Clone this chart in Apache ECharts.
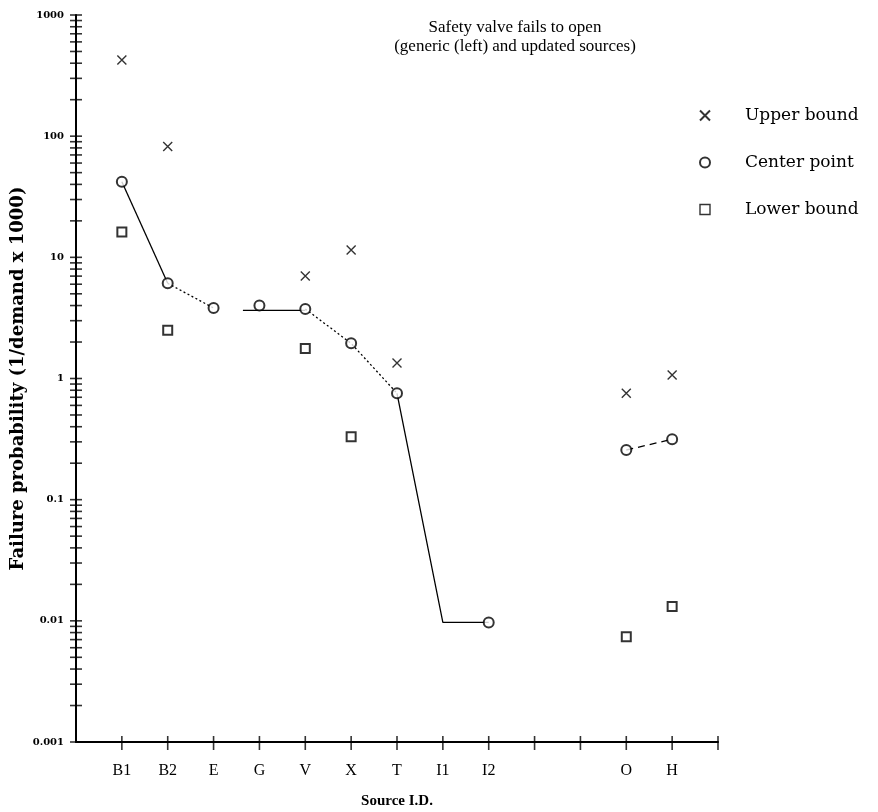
<!DOCTYPE html>
<html><head><meta charset="utf-8">
<script src="https://cdn.jsdelivr.net/npm/echarts@6/dist/echarts.min.js"></script>
<style>html,body{margin:0;padding:0;background:#fff}#c{width:878px;height:812px}</style>
</head><body><div id="c"></div>
<script>
// ---- data ----
const categories = ['B1','B2','E','G','V','X','T','I1','I2','','','O','H'];
const upperBound  = [425, 82, null, null, 7.0, 11.5, 1.34, null, null, null, null, 0.755, 1.07];
const centerPoint = [42, 6.1, 3.82, 4.0, 3.75, 1.95, 0.755, null, 0.0097, null, null, 0.257, 0.315];
const lowerBound  = [16.2, 2.5, null, null, 1.77, 0.33, null, null, null, null, null, 0.0074, 0.0131];
// connecting lines through the center values: [position, value]
const solidLine1  = [[1, 42], [2, 6.1]];
const dottedLine1 = [[2, 6.1], [3, 3.82]];
const solidLine2  = [[3.64, 3.65], [5, 3.65]];
const dottedLine2 = [[5, 3.75], [6, 1.95], [7, 0.755]];
const solidLine3  = [[7, 0.755], [8, 0.0097], [9, 0.0097]];
const dashedLine  = [[12, 0.257], [13, 0.315]];
const yTickLabels = ['0.001','0.01','0.1','1','10','100','1000'];
const yDecades = [0.001, 0.01, 0.1, 1, 10, 100];
const tickMultipliers = [1,2,3,4,5,6,7,8,9];

const FONT = "'Liberation Serif','DejaVu Serif',serif";
const WIDE = "'DejaVu Serif','Liberation Serif',serif";
const toPairs = arr => arr.map((v, i) => v == null ? null : [i + 1, v]).filter(p => p);

const yTicks = [];
yDecades.forEach(d => tickMultipliers.forEach(m => yTicks.push([0, m * d])));
yTicks.push([0, 1000]);
const xTicks = [];
for (let i = 1; i <= categories.length + 1; i++) xTicks.push([i, 0.001]);

const lineSeries = (data, type) => ({
  type: 'line', data, symbol: 'none', silent: true, z: 1,
  lineStyle: { color: '#000', width: 1.3, type }
});
const markStyle = { color: '#000', borderColor: '#000', borderWidth: 1.4 };
const SQUARE = 'path://M0,0L10,0L10,10L0,10Z';
const CROSS = 'path://M0,0L10,10M0,10L10,0';

const chart = echarts.init(document.getElementById('c'));
chart.setOption({
  animation: false,
  backgroundColor: '#fff',
  graphic: [{
    type: 'text', x: 515, y: 18,
    style: { text: 'Safety valve fails to open\n(generic (left) and updated sources)',
      textAlign: 'center', font: "17px " + FONT, fill: '#000', lineHeight: 19 }
  }],
  legend: {
    orient: 'vertical', left: 694, top: 102, itemWidth: 70, itemHeight: 10, itemGap: 30,
    data: [
      { name: 'Upper bound', icon: CROSS },
      { name: 'Center point', icon: 'emptyCircle' },
      { name: 'Lower bound', icon: SQUARE, itemStyle: { color: '#fff', borderColor: '#000', borderWidth: 1.4 } }
    ],
    textStyle: { fontFamily: WIDE, fontSize: 17, color: '#000' }
  },
  grid: { left: 76, right: 160, top: 15, bottom: 70, outerBoundsMode: 'none' },
  xAxis: {
    type: 'value', min: 0, max: 14, interval: 1,
    name: 'Source I.D.', nameLocation: 'middle', nameGap: 52,
    nameTextStyle: { fontFamily: FONT, fontWeight: 'bold', fontSize: 15, color: '#000' },
    axisLine: { lineStyle: { color: '#000', width: 2 } },
    axisTick: { show: false }, splitLine: { show: false },
    axisLabel: { formatter: v => categories[v - 1] || '', fontFamily: FONT, fontSize: 16, color: '#000', margin: 21 }
  },
  yAxis: {
    type: 'log', logBase: 10, min: 0.001, max: 1000, interval: 1,
    name: 'Failure probability (1/demand x 1000)', nameLocation: 'middle', nameGap: 49, nameRotate: 90,
    nameMoveOverlap: false,
    nameTextStyle: { fontFamily: WIDE, fontWeight: 'bold', fontSize: 18, color: '#000' },
    axisLine: { lineStyle: { color: '#000', width: 2 } },
    axisTick: { show: false }, splitLine: { show: false }, minorTick: { show: false },
    axisLabel: { formatter: v => yTickLabels[Math.round(Math.log10(v)) + 3], fontFamily: WIDE, fontWeight: 'bold', fontSize: 10, color: '#000', margin: 12 }
  },
  series: [
    { name: 'y ticks', type: 'scatter', data: yTicks, symbol: 'rect', symbolSize: [12, 1.6], clip: false, silent: true, itemStyle: { color: '#000' }, z: 3 },
    { name: 'x ticks', type: 'scatter', data: xTicks, symbol: 'rect', symbolSize: [1.6, 14], symbolOffset: [0, 1], clip: false, silent: true, itemStyle: { color: '#000' }, z: 3 },
    lineSeries(solidLine1, 'solid'),
    lineSeries(dottedLine1, [2, 2.5]),
    lineSeries(solidLine2, 'solid'),
    lineSeries(dottedLine2, [2, 2.5]),
    lineSeries(solidLine3, 'solid'),
    lineSeries(dashedLine, [7, 5]),
    { name: 'Upper bound', type: 'scatter', data: toPairs(upperBound), symbol: CROSS, symbolSize: 9, clip: false, itemStyle: markStyle, z: 5 },
    { name: 'Center point', type: 'scatter', data: toPairs(centerPoint), symbol: 'emptyCircle', symbolSize: 10, clip: false, itemStyle: markStyle, z: 5 },
    { name: 'Lower bound', type: 'scatter', data: toPairs(lowerBound), symbol: 'emptyRect', symbolSize: 9, clip: false, itemStyle: markStyle, z: 5 }
  ]
});
</script></body></html>
